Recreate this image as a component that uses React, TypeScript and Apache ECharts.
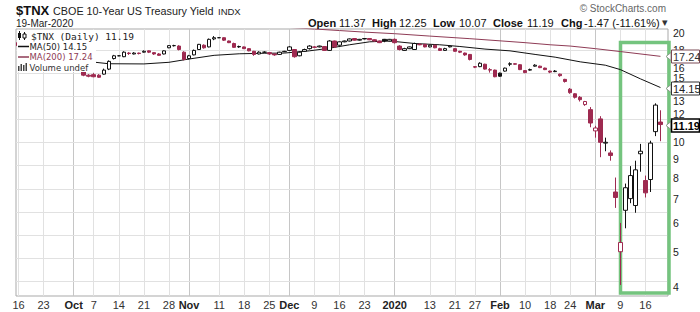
import React, { useEffect, useRef } from 'react';
import * as echarts from 'echarts';

// date, open, high, low, close  ($TNX daily)
const candles: [string, number, number, number, number][] = [
  ['2019-09-16', 18.8, 18.9, 18.3, 18.45],
  ['2019-09-17', 18.4, 18.45, 18.0, 18.1],
  ['2019-09-18', 18.0, 18.3, 17.8, 17.95],
  ['2019-09-19', 17.9, 17.95, 17.6, 17.8],
  ['2019-09-20', 17.6, 17.7, 17.2, 17.25],
  ['2019-09-23', 17.2, 17.3, 16.9, 17.1],
  ['2019-09-24', 17.1, 17.1, 16.4, 16.45],
  ['2019-09-25', 16.5, 17.4, 16.5, 17.35],
  ['2019-09-26', 17.3, 17.35, 16.9, 16.95],
  ['2019-09-27', 16.9, 17.1, 16.8, 16.85],
  ['2019-09-30', 16.9, 16.9, 16.6, 16.65],
  ['2019-10-01', 16.6, 16.9, 16.3, 16.4],
  ['2019-10-02', 16.2, 16.3, 15.9, 16.0],
  ['2019-10-03', 15.75, 15.8, 15.2, 15.3],
  ['2019-10-04', 15.3, 15.4, 15.1, 15.2],
  ['2019-10-07', 15.35, 15.5, 15.1, 15.15],
  ['2019-10-08', 15.3, 15.4, 15.05, 15.1],
  ['2019-10-09', 15.4, 15.95, 15.35, 15.8],
  ['2019-10-10', 15.9, 16.8, 15.8, 16.7],
  ['2019-10-11', 17.0, 17.4, 16.9, 17.3],
  ['2019-10-14', 17.3, 17.35, 17.25, 17.3],
  ['2019-10-15', 17.2, 17.8, 17.15, 17.7],
  ['2019-10-16', 17.6, 17.7, 17.4, 17.55],
  ['2019-10-17', 17.5, 17.7, 17.45, 17.6],
  ['2019-10-18', 17.6, 17.65, 17.45, 17.55],
  ['2019-10-21', 17.7, 17.9, 17.65, 17.8],
  ['2019-10-22', 17.85, 17.9, 17.6, 17.7],
  ['2019-10-23', 17.65, 17.7, 17.4, 17.5],
  ['2019-10-24', 17.5, 17.6, 17.3, 17.35],
  ['2019-10-25', 17.5, 17.9, 17.45, 17.85],
  ['2019-10-28', 18.2, 18.5, 18.15, 18.45],
  ['2019-10-29', 18.45, 18.55, 18.35, 18.45],
  ['2019-10-30', 18.4, 18.5, 17.9, 18.0],
  ['2019-10-31', 17.7, 17.8, 16.8, 16.9],
  ['2019-11-01', 17.0, 17.4, 16.9, 17.3],
  ['2019-11-04', 17.4, 18.0, 17.35, 17.9],
  ['2019-11-05', 18.0, 18.65, 17.95, 18.6],
  ['2019-11-06', 18.5, 18.6, 18.1, 18.2],
  ['2019-11-07', 18.3, 19.3, 18.25, 19.2],
  ['2019-11-08', 19.25, 19.6, 19.1, 19.4],
  ['2019-11-11', 19.4, 19.45, 19.35, 19.4],
  ['2019-11-12', 19.4, 19.45, 19.0, 19.1],
  ['2019-11-13', 19.0, 19.05, 18.75, 18.8],
  ['2019-11-14', 18.7, 18.8, 18.2, 18.25],
  ['2019-11-15', 18.3, 18.45, 18.2, 18.35],
  ['2019-11-18', 18.3, 18.35, 18.05, 18.1],
  ['2019-11-19', 18.1, 18.15, 17.8, 17.85],
  ['2019-11-20', 17.8, 17.85, 17.3, 17.45],
  ['2019-11-21', 17.5, 17.8, 17.45, 17.7],
  ['2019-11-22', 17.7, 17.8, 17.6, 17.7],
  ['2019-11-25', 17.65, 17.7, 17.4, 17.5],
  ['2019-11-26', 17.5, 17.55, 17.3, 17.4],
  ['2019-11-27', 17.45, 17.75, 17.4, 17.7],
  ['2019-11-29', 17.75, 17.85, 17.7, 17.8],
  ['2019-12-02', 17.9, 18.4, 17.85, 18.3],
  ['2019-12-03', 18.0, 18.05, 17.1, 17.2],
  ['2019-12-04', 17.3, 17.8, 17.25, 17.7],
  ['2019-12-05', 17.8, 18.1, 17.75, 18.0],
  ['2019-12-06', 18.1, 18.5, 18.0, 18.4],
  ['2019-12-09', 18.3, 18.4, 18.15, 18.25],
  ['2019-12-10', 18.3, 18.45, 18.25, 18.4],
  ['2019-12-11', 18.35, 18.4, 17.85, 17.9],
  ['2019-12-12', 17.9, 19.1, 17.85, 19.0],
  ['2019-12-13', 19.0, 19.05, 18.2, 18.3],
  ['2019-12-16', 18.5, 18.95, 18.45, 18.9],
  ['2019-12-17', 18.9, 19.05, 18.85, 19.0],
  ['2019-12-18', 19.0, 19.3, 18.95, 19.25],
  ['2019-12-19', 19.3, 19.35, 19.05, 19.1],
  ['2019-12-20', 19.1, 19.25, 19.05, 19.2],
  ['2019-12-23', 19.25, 19.35, 19.2, 19.3],
  ['2019-12-24', 19.3, 19.3, 19.1, 19.15],
  ['2019-12-26', 19.15, 19.2, 18.9, 19.0],
  ['2019-12-27', 19.0, 19.05, 18.75, 18.8],
  ['2019-12-30', 19.2, 19.25, 18.85, 19.0],
  ['2019-12-31', 19.0, 19.25, 18.95, 19.2],
  ['2020-01-02', 19.2, 19.3, 18.7, 18.8],
  ['2020-01-03', 18.4, 18.5, 17.9, 18.0],
  ['2020-01-06', 17.9, 18.2, 17.85, 18.1],
  ['2020-01-07', 18.1, 18.35, 18.05, 18.3],
  ['2020-01-08', 18.0, 18.8, 17.95, 18.7],
  ['2020-01-09', 18.6, 18.75, 18.5, 18.55],
  ['2020-01-10', 18.6, 18.65, 18.25, 18.3],
  ['2020-01-13', 18.3, 18.55, 18.25, 18.5],
  ['2020-01-14', 18.5, 18.55, 18.15, 18.2],
  ['2020-01-15', 18.1, 18.2, 17.85, 17.9],
  ['2020-01-16', 17.9, 18.2, 17.85, 18.1],
  ['2020-01-17', 18.3, 18.45, 18.25, 18.4],
  ['2020-01-21', 18.1, 18.15, 17.75, 17.8],
  ['2020-01-22', 17.8, 17.85, 17.6, 17.7],
  ['2020-01-23', 17.6, 17.65, 17.3, 17.4],
  ['2020-01-24', 17.45, 17.5, 16.8, 16.9],
  ['2020-01-27', 16.15, 16.2, 16.0, 16.1],
  ['2020-01-28', 16.15, 16.6, 16.1, 16.5],
  ['2020-01-29', 16.4, 16.45, 15.85, 15.9],
  ['2020-01-30', 15.8, 16.0, 15.55, 15.85],
  ['2020-01-31', 15.8, 15.85, 15.1, 15.15],
  ['2020-02-03', 15.5, 15.55, 15.15, 15.2],
  ['2020-02-04', 15.7, 16.05, 15.65, 16.0],
  ['2020-02-05', 16.4, 16.6, 16.2, 16.45],
  ['2020-02-06', 16.45, 16.5, 16.35, 16.4],
  ['2020-02-07', 16.35, 16.4, 15.8, 15.85],
  ['2020-02-10', 15.75, 15.8, 15.5, 15.55],
  ['2020-02-11', 15.8, 15.95, 15.75, 15.85],
  ['2020-02-12', 16.2, 16.4, 16.15, 16.3],
  ['2020-02-13', 16.2, 16.25, 16.0, 16.05],
  ['2020-02-14', 16.0, 16.05, 15.8, 15.85],
  ['2020-02-18', 15.7, 15.75, 15.5, 15.6],
  ['2020-02-19', 15.65, 15.8, 15.6, 15.7],
  ['2020-02-20', 15.4, 15.45, 15.15, 15.25],
  ['2020-02-21', 14.9, 14.95, 14.6, 14.7],
  ['2020-02-24', 14.0, 14.1, 13.6, 13.7],
  ['2020-02-25', 13.6, 13.65, 13.2, 13.3],
  ['2020-02-26', 13.3, 13.4, 12.95, 13.1],
  ['2020-02-27', 12.7, 13.0, 12.6, 12.95],
  ['2020-02-28', 12.3, 12.5, 11.0, 11.3],
  ['2020-03-02', 10.75, 11.1, 10.3, 10.95],
  ['2020-03-03', 11.6, 11.8, 9.1, 10.0],
  ['2020-03-04', 9.95, 10.3, 9.45, 10.0],
  ['2020-03-05', 9.35, 9.5, 8.9, 9.2],
  ['2020-03-06', 7.3, 8.0, 6.6, 7.05],
  ['2020-03-09', 5.0, 6.0, 4.05, 5.3],
  ['2020-03-10', 6.5, 7.7, 5.8, 7.5],
  ['2020-03-11', 7.0, 8.6, 6.8, 8.1],
  ['2020-03-12', 6.7, 8.9, 6.4, 8.4],
  ['2020-03-13', 9.3, 9.9, 8.3, 9.45],
  ['2020-03-16', 7.85, 8.1, 7.05, 7.26],
  ['2020-03-17', 7.9, 10.1, 7.3, 9.95],
  ['2020-03-18', 10.7, 12.8, 10.4, 12.66],
  ['2020-03-19', 11.37, 12.25, 10.07, 11.19],
];
const padDates = ['2020-03-20'];

const ma50: [string, number][] = [
  ['2019-09-16', 16.95], ['2019-09-23', 16.85], ['2019-09-30', 16.75], ['2019-10-07', 16.62],
  ['2019-10-10', 16.45], ['2019-10-21', 16.43], ['2019-10-28', 16.6], ['2019-11-01', 16.95],
  ['2019-11-08', 17.35], ['2019-11-15', 17.52], ['2019-11-22', 17.58], ['2019-11-29', 17.6],
  ['2019-12-06', 17.85], ['2019-12-12', 18.15], ['2019-12-18', 18.55], ['2019-12-24', 18.9],
  ['2019-12-31', 19.0], ['2020-01-08', 18.7], ['2020-01-15', 18.55], ['2020-01-22', 18.35],
  ['2020-01-29', 18.05], ['2020-02-05', 17.85], ['2020-02-12', 17.45], ['2020-02-19', 17.15],
  ['2020-02-26', 16.65], ['2020-03-04', 16.3], ['2020-03-09', 15.85], ['2020-03-13', 14.95],
  ['2020-03-19', 14.15],
];
const ma200: [string, number][] = [
  ['2019-09-16', 22.1], ['2019-10-01', 21.75], ['2019-10-15', 21.45], ['2019-11-01', 21.15],
  ['2019-11-15', 20.95], ['2019-12-02', 20.7], ['2019-12-09', 20.5], ['2019-12-16', 20.3],
  ['2019-12-23', 20.1], ['2020-01-02', 19.9], ['2020-01-13', 19.6], ['2020-01-24', 19.28],
  ['2020-02-03', 19.02], ['2020-02-10', 18.8], ['2020-02-18', 18.55], ['2020-02-24', 18.4],
  ['2020-03-02', 18.1], ['2020-03-09', 17.77], ['2020-03-19', 17.24],
];

const xTicks: [string, string][] = [
  ['2019-09-16', '16'], ['2019-09-23', '23'], ['2019-10-01', 'Oct'], ['2019-10-07', '7'],
  ['2019-10-14', '14'], ['2019-10-21', '21'], ['2019-10-28', '28'], ['2019-11-01', 'Nov'],
  ['2019-11-11', '11'], ['2019-11-18', '18'], ['2019-11-25', '25'], ['2019-12-02', 'Dec'],
  ['2019-12-09', '9'], ['2019-12-16', '16'], ['2019-12-23', '23'], ['2020-01-02', '2020'],
  ['2020-01-13', '13'], ['2020-01-21', '21'], ['2020-01-27', '27'], ['2020-02-03', 'Feb'],
  ['2020-02-10', '10'], ['2020-02-18', '18'], ['2020-02-24', '24'], ['2020-03-02', 'Mar'],
  ['2020-03-09', '9'], ['2020-03-16', '16'],
];
const monthLabels = ['Oct', 'Nov', 'Dec', '2020', 'Feb', 'Mar'];
const yLabels = [4, 5, 6, 7, 8, 9, 10, 12, 13, 15, 16, 18, 19, 20];
const yGrid = [4.14, 4.79, 5.55, 6.43, 7.45, 8.63, 10, 11.58, 13.4, 15.52, 17.97];
const yMin = 3.777;
const yMax = 20.5;

const lastClose = 11.19;
const lastMA50 = 14.15;
const lastMA200 = 17.24;
const headerStats: [string, string][] = [
  ['Open', '11.37'], ['High', '12.25'], ['Low', '10.07'], ['Close', '11.19'], ['Chg', '-1.47 (-11.61%)'],
];

const FONT = '"Liberation Sans", Arial, sans-serif';
const RED = '#9e2a50';
const BLACK = '#111111';
const MA200C = '#8e3b55';
const GRID = '#e1e1e1';

export default function App() {
  const ref = useRef<HTMLDivElement>(null);
  useEffect(() => {
    const chart = echarts.init(ref.current!, null, { renderer: 'svg' });
    const dates = [...candles.map((r) => r[0]), ...padDates];
    const tickMap = new Map(xTicks);
    const monthSet = new Set(xTicks.filter((t) => monthLabels.includes(t[1])).map((t) => t[0]));
    const weekSet = new Set(xTicks.filter((t) => !monthLabels.includes(t[1])).map((t) => t[0]));

    const candleData = candles.map((r, i) => {
      const [, o, h, l, c] = r;
      const prev = i > 0 ? candles[i - 1][4] : o;
      const edge = c >= prev ? BLACK : RED;
      const fill = c > o ? '#ffffff' : edge;
      return {
        value: [o, c, l, h],
        itemStyle: { color: fill, color0: fill, borderColor: edge, borderColor0: edge, borderColorDoji: edge },
      };
    });

    const plotH = 312 - 29 - 16;
    chart.setOption({
      animation: false,
      backgroundColor: '#ffffff',
      grid: { left: 16, right: 32, top: 29, bottom: 16, show: true, borderColor: '#a9a9a9', borderWidth: 1 },
      xAxis: [
        {
          type: 'category', data: dates, boundaryGap: true,
          axisLine: { show: false },
          axisTick: {
            show: true, inside: true, length: plotH, alignWithLabel: true,
            interval: (_i: number, v: string) => weekSet.has(v),
            lineStyle: { color: GRID, width: 1 },
          },
          axisLabel: {
            interval: (_i: number, v: string) => tickMap.has(v),
            formatter: (v: string) => {
              const t = tickMap.get(v) || '';
              return monthLabels.includes(t) ? `{b|${t}}` : t;
            },
            margin: 3, fontSize: 11, color: '#333', fontFamily: FONT,
            rich: { b: { fontWeight: 'bold', fontSize: 11, color: '#222', fontFamily: FONT } },
          },
          splitLine: { show: false },
        },
        {
          type: 'category', data: dates, boundaryGap: true, position: 'bottom',
          axisLine: { show: false }, axisLabel: { show: false }, splitLine: { show: false },
          axisTick: {
            show: true, inside: true, length: plotH, alignWithLabel: true,
            interval: (_i: number, v: string) => monthSet.has(v),
            lineStyle: { color: '#c6c6c6', width: 1 },
          },
        },
      ],
      yAxis: {
        type: 'log', logBase: 10, min: yMin, max: yMax, position: 'right',
        axisLine: { show: false },
        axisTick: { show: false },
        axisLabel: {
          customValues: yLabels, margin: 5, fontSize: 10.5, color: '#222', fontFamily: FONT,
          showMaxLabel: true, showMinLabel: true,
          formatter: (v: number) => String(Math.round(v)),
        },
        splitLine: { show: false },
      },
      series: [
        {
          type: 'line', data: ma200, showSymbol: false, symbol: 'none', clip: true, silent: true,
          lineStyle: { color: MA200C, width: 1 }, z: 2,
          markLine: {
            silent: true, symbol: ['none', 'none'], label: { show: false },
            lineStyle: { color: GRID, width: 1, type: 'solid' },
            emphasis: { disabled: true },
            data: yGrid.map((v) => ({ yAxis: v })),
            z: 1,
          },
        },
        {
          type: 'line', data: ma50, showSymbol: false, symbol: 'none', clip: true, silent: true,
          lineStyle: { color: BLACK, width: 1 }, z: 2,
        },
        {
          type: 'candlestick', data: candleData, barWidth: 4, clip: true, silent: true,
          itemStyle: { borderWidth: 1 }, z: 3,
        },
      ],
    });

    const yPx = (v: number) => chart.convertToPixel({ yAxisIndex: 0 }, v) as unknown as number;
    const tag = (v: number, text: string, stroke: string, color: string, bold: boolean) => {
      const y = Math.round(yPx(v)) + 0.5;
      return {
        type: 'group', z: 120,
        children: [
          { type: 'polygon', z: 120, shape: { points: [[671, y - 4], [666, y], [671, y + 4]] }, style: { fill: '#fff', stroke: '#8a9a8a', lineWidth: 1 } },
          { type: 'rect', z: 121, shape: { x: 671.5, y: y - 6.5, width: 28, height: 13 }, style: { fill: '#fff', stroke, lineWidth: bold ? 1.6 : 1 } },
          { type: 'text', z: 122, style: { x: 673, y: y + 0.5, text, fill: color, font: `${bold ? 'bold ' : ''}11px ${FONT}`, verticalAlign: 'middle', align: 'left' } },
        ],
      };
    };

    const txt = (x: number, y: number, text: string, font: string, fill = '#111', align = 'left') => ({
      type: 'text', z: 130, style: { x, y, text, font, fill, align, verticalAlign: 'middle' },
    });

    const statX = [308, 372, 433, 493, 561];
    const statValX = [339, 399, 459, 527, 584];
    const statEls: any[] = [];
    headerStats.forEach(([k, v], i) => {
      statEls.push(txt(statX[i], 22.5, k, `bold 11px ${FONT}`, '#111'));
      statEls.push(txt(statValX[i], 22.5, v, `11px ${FONT}`, '#111'));
    });

    chart.setOption({
      graphic: {
        elements: [
          // highlight box
          { type: 'rect', z: 1, shape: { x: 620.5, y: 42.5, width: 48.5, height: 250.5 }, style: { fill: 'none', stroke: '#74c47e', lineWidth: 3.5 } },
          // legend background
          { type: 'rect', z: 100, shape: { x: 17, y: 30, width: 79, height: 42 }, style: { fill: '#ffffff' } },
          // candle icon
          { type: 'line', z: 101, shape: { x1: 19.5, y1: 31, x2: 19.5, y2: 40 }, style: { stroke: BLACK, lineWidth: 1 } },
          { type: 'rect', z: 102, shape: { x: 18, y: 33, width: 3, height: 5 }, style: { fill: BLACK } },
          { type: 'line', z: 101, shape: { x1: 24.5, y1: 32, x2: 24.5, y2: 40 }, style: { stroke: BLACK, lineWidth: 1 } },
          { type: 'rect', z: 102, shape: { x: 23, y: 34, width: 3, height: 4 }, style: { fill: '#fff', stroke: BLACK, lineWidth: 1 } },
          txt(31, 36, `$TNX (Daily) ${lastClose.toFixed(2)}`, '9.5px "DejaVu Sans Mono", monospace', '#222'),
          { type: 'line', z: 101, shape: { x1: 18, y1: 46.5, x2: 29, y2: 46.5 }, style: { stroke: BLACK, lineWidth: 1.5 } },
          txt(29.5, 46.5, `MA(50) ${lastMA50.toFixed(2)}`, '8.5px "DejaVu Sans", sans-serif', '#222'),
          { type: 'line', z: 101, shape: { x1: 18, y1: 57, x2: 29, y2: 57 }, style: { stroke: MA200C, lineWidth: 1.5 } },
          txt(29.5, 57, `MA(200) ${lastMA200.toFixed(2)}`, '8.5px "DejaVu Sans", sans-serif', MA200C),
          { type: 'rect', z: 101, shape: { x: 18, y: 66, width: 1.5, height: 5 }, style: { fill: '#444' } },
          { type: 'rect', z: 101, shape: { x: 20.5, y: 64, width: 1.5, height: 7 }, style: { fill: '#444' } },
          { type: 'rect', z: 101, shape: { x: 23, y: 65, width: 1.5, height: 6 }, style: { fill: '#444' } },
          { type: 'rect', z: 101, shape: { x: 25.5, y: 63, width: 1.5, height: 8 }, style: { fill: '#444' } },
          txt(29.5, 67.5, 'Volume undef', '8.5px "DejaVu Sans", sans-serif', '#333'),
          // header
          txt(16, 10.5, '$TNX', `bold 13px ${FONT}`, '#111'),
          txt(53, 11, 'CBOE 10-Year US Treasury Yield', `10.8px ${FONT}`, '#222'),
          txt(218, 11.5, 'INDX', `9.5px ${FONT}`, '#222'),
          txt(16, 23, '19-Mar-2020', `10px ${FONT}`, '#222'),
          txt(666, 8.5, '\u00a9 StockCharts.com', `10px ${FONT}`, '#666', 'right'),
          ...statEls,
          txt(662, 22.5, '\u25be', `11px "DejaVu Sans", sans-serif`, '#333'),
          // value tags
          tag(lastMA200, lastMA200.toFixed(2), '#7a4a55', '#333', false),
          tag(lastMA50, lastMA50.toFixed(2), '#333', '#222', false),
          tag(lastClose, lastClose.toFixed(2), '#000', '#000', true),
        ],
      },
    });

    return () => chart.dispose();
  }, []);
  return <div ref={ref} style={{ position: 'absolute', left: 0, top: 0, width: 700, height: 312, background: '#fff' }} />;
}
